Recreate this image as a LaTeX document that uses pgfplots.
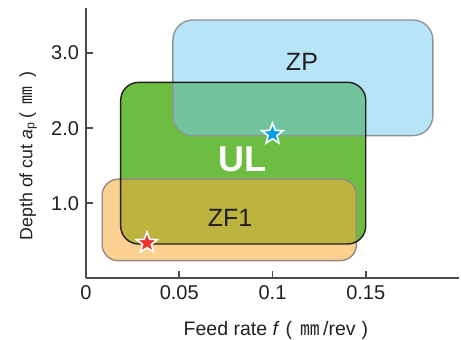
\documentclass[border=0pt]{standalone}
\usepackage{pgfplots}
\pgfplotsset{compat=1.18}
\usepackage{fontspec}
\setmainfont{Liberation Sans}
\newfontfamily\cjk{Noto Sans CJK JP}

\definecolor{txt}{RGB}{35,31,32}
\definecolor{axisgray}{RGB}{75,75,75}
\definecolor{ulgreen}{RGB}{110,189,67}
\definecolor{ulborder}{RGB}{30,30,30}
\definecolor{zforange}{RGB}{249,172,61}
\definecolor{zfborder}{RGB}{150,140,125}
\definecolor{zpblue}{RGB}{118,203,242}
\definecolor{zpborder}{RGB}{140,150,155}
\definecolor{starred}{RGB}{235,50,45}
\definecolor{starblue}{RGB}{0,160,230}

\pgfdeclareplotmark{fstar}{%
  \pgfpathmoveto{\pgfpointpolar{90}{\pgfplotmarksize}}%
  \pgfpathlineto{\pgfpointpolar{126}{0.42\pgfplotmarksize}}%
  \pgfpathlineto{\pgfpointpolar{162}{\pgfplotmarksize}}%
  \pgfpathlineto{\pgfpointpolar{198}{0.42\pgfplotmarksize}}%
  \pgfpathlineto{\pgfpointpolar{234}{\pgfplotmarksize}}%
  \pgfpathlineto{\pgfpointpolar{270}{0.42\pgfplotmarksize}}%
  \pgfpathlineto{\pgfpointpolar{306}{\pgfplotmarksize}}%
  \pgfpathlineto{\pgfpointpolar{342}{0.42\pgfplotmarksize}}%
  \pgfpathlineto{\pgfpointpolar{18}{\pgfplotmarksize}}%
  \pgfpathlineto{\pgfpointpolar{54}{0.42\pgfplotmarksize}}%
  \pgfpathclose
  \pgfusepathqfillstroke}

\begin{document}
\begin{tikzpicture}
\begin{axis}[
  scale only axis, width=186.5pt, height=135.15pt,
  xmin=0, xmax=0.2, ymin=0, ymax=3.6,
  axis lines*=left,
  axis line style={draw=axisgray, line width=0.8pt},
  tick align=inside, major tick length=3.5pt,
  tick style={draw=axisgray, line width=0.8pt},
  xtick={0,0.05,0.1,0.15}, xticklabels={0,0.05,0.1,0.15},
  ytick={1,2,3}, yticklabels={1.0,2.0,3.0},
  ticklabel style={font=\fontsize{10}{12}\selectfont, text=txt},
  /pgf/number format/assume math mode=true,
  xlabel={Feed rate \textit{f}\hspace{0.3em}(\hspace{0.45em}{\cjk ㎜}\hspace{0.15em}/rev\hspace{0.3em})},
  ylabel={Depth of cut \textit{a}\textsubscript{p}\hspace{0.15em}(\hspace{0.5em}{\cjk ㎜}\hspace{0.5em})},
  xlabel style={font=\fontsize{9.75}{11}\selectfont, text=txt, at={(axis description cs:0.509,-0.213)}, anchor=base},
  ylabel style={font=\fontsize{8.9}{11}\selectfont, text=txt, at={(axis description cs:-0.144,0.4525)}, anchor=base},
  clip=false,
]
\coordinate (ll) at (rel axis cs:0,0);
% UL fill
\addplot[draw=none, fill=ulgreen, rounded corners=9pt]
  coordinates {(0.084,0.457) (0.150,0.457) (0.150,2.61) (0.0186,2.61) (0.0186,0.457)} -- cycle;
% ZF1 fill
\addplot[draw=none, fill=zforange, fill opacity=0.57, rounded corners=8pt]
  coordinates {(0.077,0.235) (0.145,0.235) (0.145,1.32) (0.0087,1.32) (0.0087,0.235)} -- cycle;
% ZP fill
\addplot[draw=none, fill=zpblue, fill opacity=0.52, rounded corners=10pt]
  coordinates {(0.116,1.90) (0.186,1.90) (0.186,3.44) (0.0466,3.44) (0.0466,1.90)} -- cycle;
% borders
\addplot[draw=zfborder, line width=0.7pt, rounded corners=8pt]
  coordinates {(0.077,0.235) (0.145,0.235) (0.145,1.32) (0.0087,1.32) (0.0087,0.235)} -- cycle;
\addplot[draw=zpborder, line width=0.7pt, rounded corners=10pt]
  coordinates {(0.116,1.90) (0.186,1.90) (0.186,3.44) (0.0466,3.44) (0.0466,1.90)} -- cycle;
\addplot[draw=ulborder, line width=0.7pt, rounded corners=9pt]
  coordinates {(0.084,0.457) (0.150,0.457) (0.150,2.61) (0.0186,2.61) (0.0186,0.457)} -- cycle;
% labels
\node[font=\fontsize{12.5}{14}\selectfont, text=txt] at (axis cs:0.1158,2.88) {ZP};
\node[font=\fontsize{12.5}{14}\selectfont, text=txt] at (axis cs:0.0772,0.80) {ZF1};
\node[font=\bfseries\fontsize{18}{20}\selectfont, text=white] at (axis cs:0.0841,1.58) {UL};
% stars
\addplot[only marks, mark=fstar, mark size=5.5pt, mark options={fill=starred, draw=white, line width=0.8pt}]
  coordinates {(0.0327,0.47)};
\addplot[only marks, mark=fstar, mark size=5.5pt, mark options={fill=starblue, draw=white, line width=0.8pt}]
  coordinates {(0.100,1.92)};
\end{axis}
\pgfresetboundingbox
\path[use as bounding box] (ll) ++(-43pt,-30.85pt) rectangle ++(230.5pt,170pt);
\end{tikzpicture}
\end{document}
